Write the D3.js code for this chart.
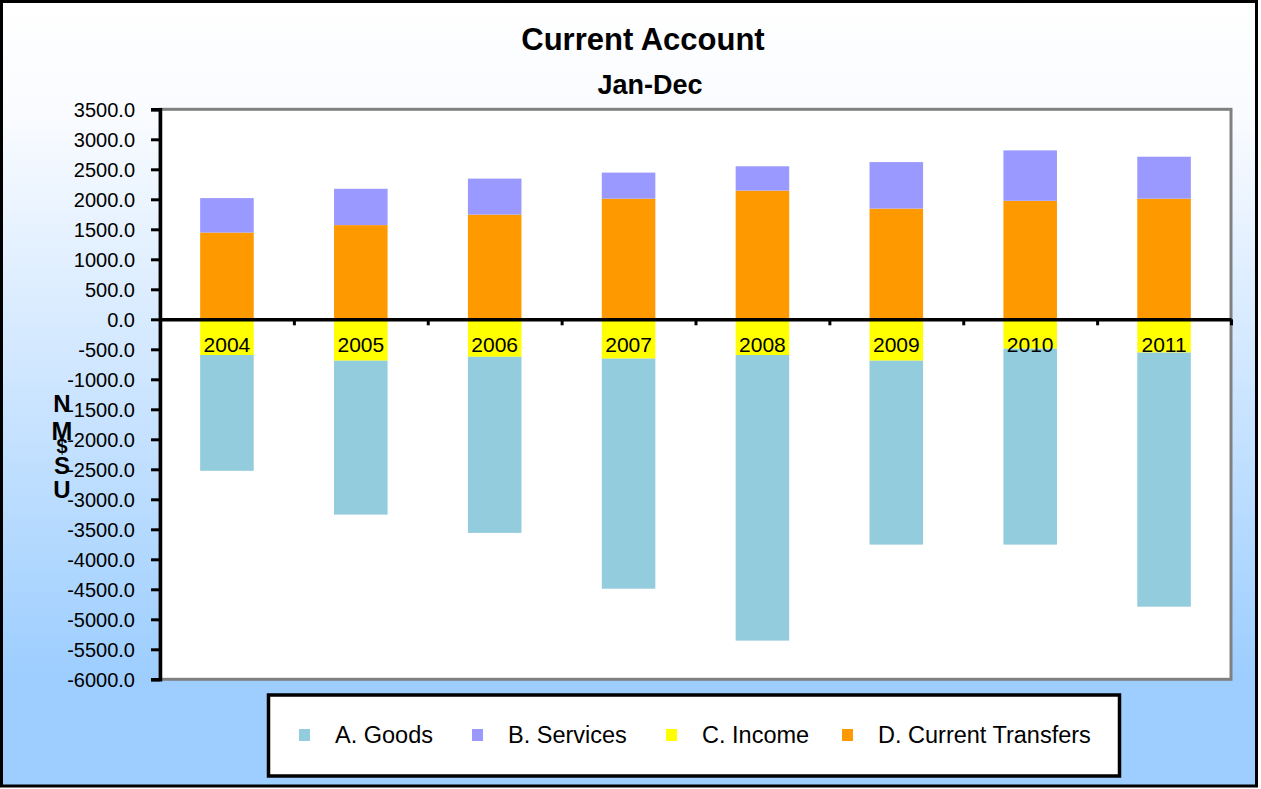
<!DOCTYPE html>
<html>
<head>
<meta charset="utf-8">
<script src="https://cdn.jsdelivr.net/npm/d3@7"></script>
<style>
  body { margin: 0; background: #ffffff; }
  svg { display: block; font-family: Arial, "Liberation Sans", sans-serif; }
</style>
</head>
<body>
<svg></svg>
<script>
// chart data
var years = ["2004", "2005", "2006", "2007", "2008", "2009", "2010", "2011"];
var goods = [-1930, -2565, -2935, -3835, -4760, -3065, -3265, -4235];
var services = [575, 605, 600, 435, 405, 775, 840, 700];
var income = [-595, -690, -625, -655, -595, -690, -490, -555];
var transfers = [1445, 1570, 1745, 2010, 2145, 1845, 1975, 2010];
var yTicks = d3.range(-6000, 3501, 500);

var seriesNames = ["A. Goods", "B. Services", "C. Income", "D. Current Transfers"];
var seriesColors = ["#93CCDD", "#9999FF", "#FFFF00", "#FF9900"];

window.onload = function () {

    var width = 1261, height = 789;
    var svg = d3.select("svg").attr("width", width).attr("height", height);

    // plot area bounds
    var plot = {left: 160, right: 1231, top: 109.3, bottom: 679.3};

    // table for the stack layout
    var table = years.map(function (y, i) {
        return {year: y, goods: goods[i], services: services[i], income: income[i], transfers: transfers[i]};
    });
    var keys = ["transfers", "income", "services", "goods"];
    var colorOf = {goods: seriesColors[0], services: seriesColors[1], income: seriesColors[2], transfers: seriesColors[3]};

    var stacked = d3.stack().keys(keys).offset(d3.stackOffsetDiverging)(table);

    // background gradient
    var defs = svg.append("defs");
    var grad = defs.append("linearGradient")
        .attr("id", "bg").attr("x1", 0).attr("y1", 0).attr("x2", 0).attr("y2", 1);
    grad.append("stop").attr("offset", "0").attr("stop-color", "#ffffff");
    grad.append("stop").attr("offset", "0.15").attr("stop-color", "#f9fbff");
    grad.append("stop").attr("offset", "0.86").attr("stop-color", "#9dceff");
    grad.append("stop").attr("offset", "1").attr("stop-color", "#9dceff");

    svg.append("rect")
        .attr("x", 1.5).attr("y", 1.5)
        .attr("width", 1255).attr("height", 784.5)
        .attr("fill", "url(#bg)")
        .attr("stroke", "#000").attr("stroke-width", 3);

    // plot area
    svg.append("rect")
        .attr("x", plot.left).attr("y", plot.top)
        .attr("width", plot.right - plot.left).attr("height", plot.bottom - plot.top)
        .attr("fill", "#fff")
        .attr("stroke", "#808080").attr("stroke-width", 3);

    // scales
    var xScale = d3.scaleBand()
        .domain(years)
        .range([plot.left, plot.right])
        .paddingInner(0.6)
        .paddingOuter(0.3);

    var yScale = d3.scaleLinear()
        .domain([-6000, 3500])
        .range([plot.bottom, plot.top]);

    // bars
    svg.append("g").selectAll("g")
        .data(stacked)
        .enter().append("g")
        .attr("fill", function (s) { return colorOf[s.key]; })
        .selectAll("rect")
        .data(function (s) { return s; })
        .enter().append("rect")
        .attr("x", function (d) { return xScale(d.data.year); })
        .attr("width", xScale.bandwidth())
        .attr("y", function (d) { return yScale(Math.max(d[0], d[1])); })
        .attr("height", function (d) { return Math.abs(yScale(d[0]) - yScale(d[1])); });

    // y axis
    var yAxis = d3.axisLeft(yScale)
        .tickValues(yTicks)
        .tickSize(9)
        .tickPadding(16)
        .tickFormat(function (v) { return v.toFixed(1); });

    var gy = svg.append("g")
        .attr("transform", "translate(" + plot.left + ",0)")
        .call(yAxis);
    gy.select(".domain").attr("stroke", "#000").attr("stroke-width", 3.5);
    gy.selectAll(".tick line").attr("stroke", "#000").attr("stroke-width", 3);
    gy.selectAll(".tick text")
        .attr("fill", "#000")
        .style("font-size", "20px")
        .attr("dy", "0.34em");

    // zero line with category boundary ticks
    var boundary = d3.scaleLinear().domain([0, years.length]).range([plot.left, plot.right]);
    var gz = svg.append("g")
        .attr("transform", "translate(0," + yScale(0) + ")")
        .call(d3.axisBottom(boundary).ticks(years.length).tickSize(6).tickSizeOuter(0).tickFormat(""));
    gz.select(".domain").attr("stroke", "#000").attr("stroke-width", 3.5);
    gz.selectAll(".tick line").attr("stroke", "#000").attr("stroke-width", 3);

    // year labels
    var gx = svg.append("g")
        .attr("transform", "translate(0," + yScale(0) + ")")
        .call(d3.axisBottom(xScale).tickSize(0).tickPadding(18));
    gx.select(".domain").remove();
    gx.selectAll(".tick text").attr("fill", "#000").style("font-size", "21px");

    // titles
    svg.append("text")
        .attr("x", 643).attr("y", 50)
        .attr("text-anchor", "middle")
        .style("font-size", "31px").style("font-weight", "bold")
        .text("Current Account");

    svg.append("text")
        .attr("x", 650).attr("y", 94)
        .attr("text-anchor", "middle")
        .style("font-size", "27px").style("font-weight", "bold")
        .text("Jan-Dec");

    // stacked letters of the y axis title
    var yTitle = [
        {ch: "N", y: 412, size: 24},
        {ch: "M", y: 440, size: 25},
        {ch: "$", y: 453, size: 20},
        {ch: "S", y: 474, size: 24},
        {ch: "U", y: 498, size: 24}
    ];
    svg.append("g").selectAll("text")
        .data(yTitle)
        .enter().append("text")
        .attr("x", 62)
        .attr("y", function (d) { return d.y; })
        .attr("text-anchor", "middle")
        .style("font-size", function (d) { return d.size + "px"; })
        .style("font-weight", "bold")
        .text(function (d) { return d.ch; });

    // legend - hand placed
    var legend = svg.append("g").attr("id", "legend");
    legend.append("rect")
        .attr("x", 268.5).attr("y", 695)
        .attr("width", 851).attr("height", 81)
        .attr("fill", "#fff")
        .attr("stroke", "#000").attr("stroke-width", 3.5);

    var legendX = [299, 472, 666, 842];
    seriesNames.forEach(function (name, i) {
        legend.append("rect")
            .attr("x", legendX[i]).attr("y", 729)
            .attr("width", 11).attr("height", 12)
            .attr("fill", seriesColors[i]);
        legend.append("text")
            .attr("x", legendX[i] + 36).attr("y", 743)
            .style("font-size", "23.5px")
            .text(name);
    });
};
</script>
</body>
</html>
